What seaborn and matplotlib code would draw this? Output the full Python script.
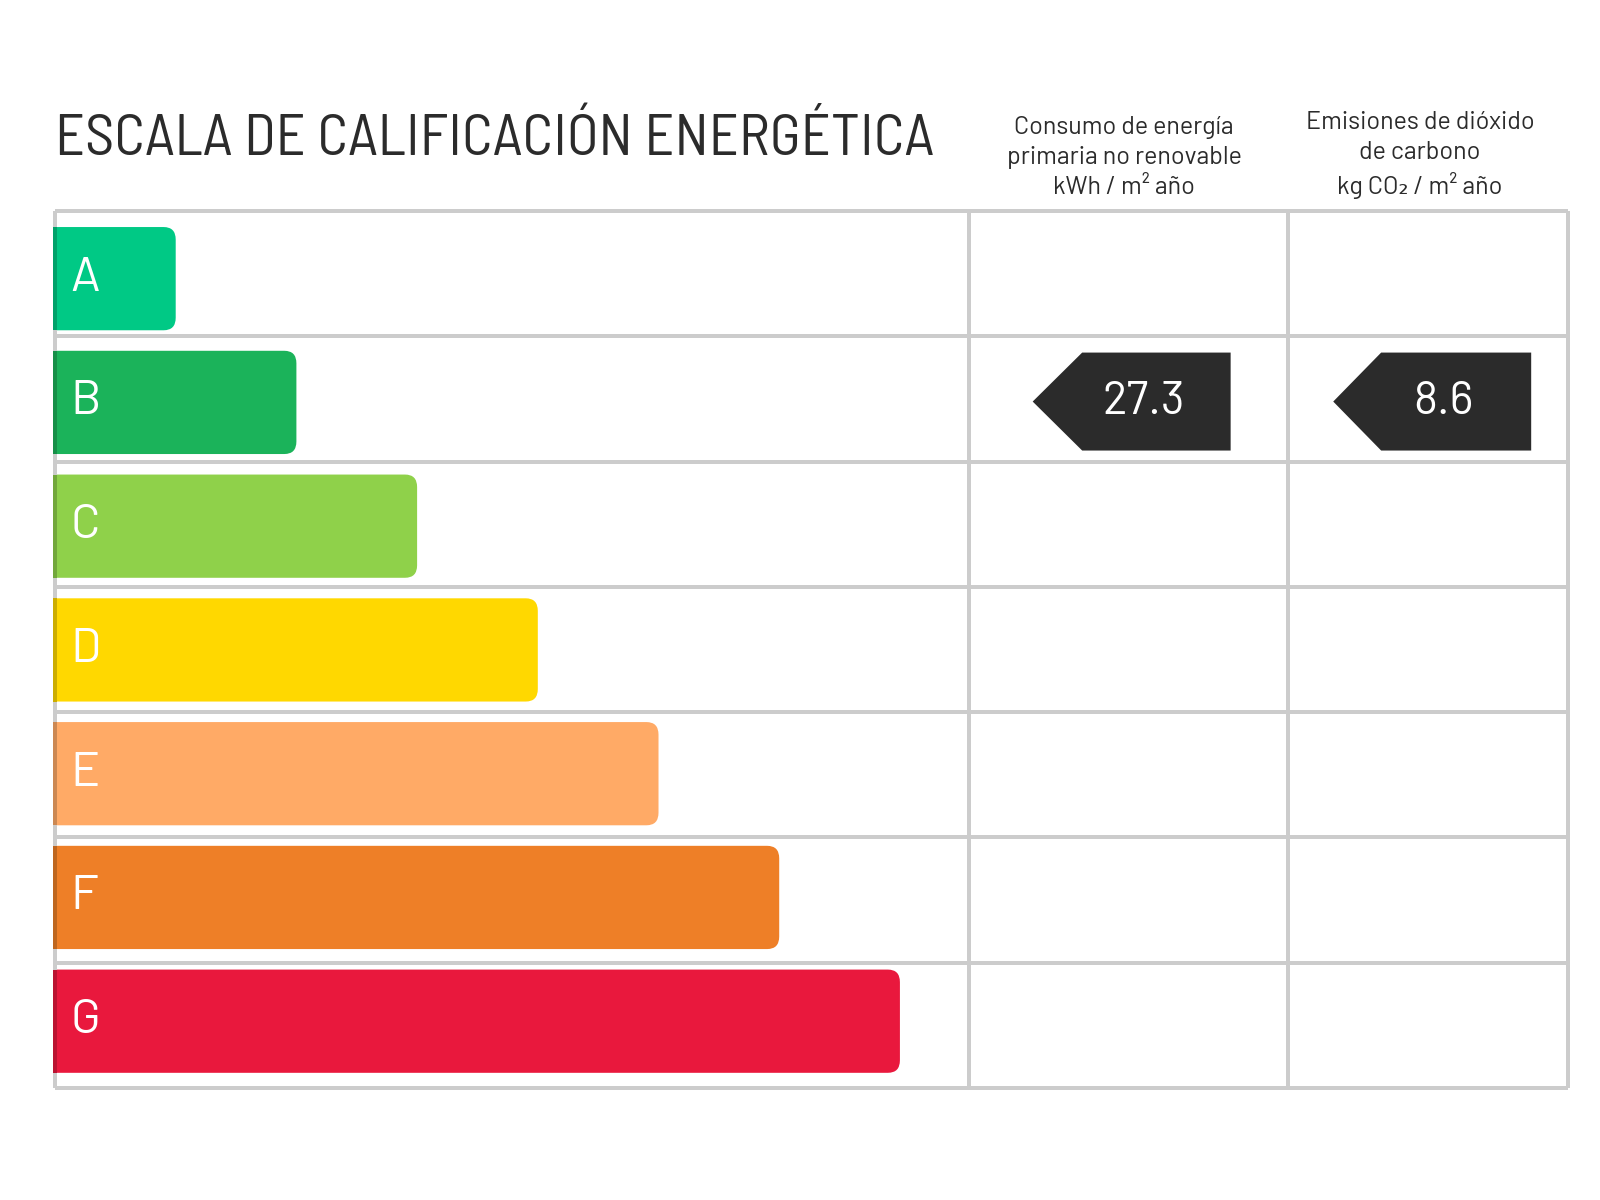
import matplotlib
matplotlib.use('Agg')
import matplotlib.pyplot as plt
from matplotlib.patches import FancyBboxPatch, Rectangle, Polygon
import seaborn as sns

# energy rating scale data
letters = ['A', 'B', 'C', 'D', 'E', 'F', 'G']
bar_length = [1, 2, 3, 4, 5, 6, 7]
bar_colors = ['#00C985', '#1BB35A', '#8FD14A', '#FFD800', '#FFAA66', '#EE7F27', '#E9183D']
dark_colors = ['#00A16A', '#168F48', '#72A73B', '#CCAD00', '#CC8852', '#BE661F', '#BA1331']

title = 'ESCALA DE CALIFICACIÓN ENERGÉTICA'
col_titles = ['Consumo de energía\nprimaria no renovable\nkWh / m² año',
              'Emisiones de dióxido\nde carbono\nkg CO₂ / m² año']
rated_letter = ['B', 'B']
rated_value = ['27.3', '8.6']

sns.set_theme(style='white')
plt.rcParams['font.family'] = ['Barlow Semi Condensed', 'DejaVu Sans']

GRID = '#CCCCCC'
INK = '#2B2B2B'
LW = 4 * 72 / 100  # 4 px lines
XMAX = 12.535
COL_EDGES = [7.573, 10.215]
ARROW_X = [(8.10, 8.51, 9.74), (10.59, 10.987, 12.23)]

fig = plt.figure(figsize=(16, 12), dpi=100)
ax = fig.add_axes([55 / 1600, 1 - 1088 / 1200, 1513 / 1600, 877 / 1200])

df = {'letter': letters, 'length': bar_length}
sns.barplot(x=df['length'], y=df['letter'], hue=df['letter'], palette=bar_colors,
            orient='h', width=0.824, legend=False, ax=ax)

# swap the plain bars for bars with rounded right corners
# (bars are stacked a bit tighter than the table rows)
for i, p in enumerate(list(ax.patches)):
    x, y, w, h = p.get_x(), p.get_y() + 0.04 - 0.0122 * i, p.get_width(), p.get_height()
    c = bar_colors[i]
    p.remove()
    # start left of the axes so the clip gives a square left edge
    ax.add_patch(FancyBboxPatch((x - 0.3, y), w + 0.3, h,
                                boxstyle='round,pad=0,rounding_size=0.1',
                                fc=c, ec='none', zorder=2))
    ax.add_patch(Rectangle((x - 0.0166, y), 0.033, h, fc=dark_colors[i], ec='none',
                           zorder=4, clip_on=False))
    ax.text(x + 0.13, y + h / 2, letters[i], color='white', fontsize=35,
            va='center', ha='left', zorder=5, family=['Barlow', 'DejaVu Sans'])

# table grid
ax.hlines([i - 0.5 for i in range(len(letters) + 1)], 0, XMAX, color=GRID, lw=LW,
          zorder=3, clip_on=False)
ax.vlines([0] + COL_EDGES + [XMAX], -0.5, len(letters) - 0.5, color=GRID, lw=LW,
          zorder=3, clip_on=False)

# rating arrows
for k, (lt, val) in enumerate(zip(rated_letter, rated_value)):
    r = letters.index(lt)
    tip, left, right = ARROW_X[k]
    top, bot = r - 0.5 + 0.13, r - 0.5 + 0.912
    mid = (top + bot) / 2
    ax.add_patch(Polygon([(tip, mid), (left, top), (right, top), (right, bot), (left, bot)],
                         closed=True, fc=INK, ec='none', zorder=4))
    ax.text((left + right) / 2 - 0.11, mid, val, color='white', fontsize=33,
            ha='center', va='center', zorder=5, family=['Barlow', 'DejaVu Sans'])

ax.set_xlim(0, XMAX)
ax.set_ylim(len(letters) - 0.5, -0.5)
ax.set_axis_off()

# titles
fig.text(55 / 1600, 1 - 155 / 1200, title, fontsize=42, color=INK, ha='left', va='baseline')
col_centers = [1124, 1420]
for cx, t in zip(col_centers, col_titles):
    fig.text(cx / 1600, 1 - 199 / 1200, t, fontsize=18, color=INK, ha='center', va='bottom',
             linespacing=1.38, family=['Barlow', 'DejaVu Sans'])

fig.savefig('out.png', dpi=100)
